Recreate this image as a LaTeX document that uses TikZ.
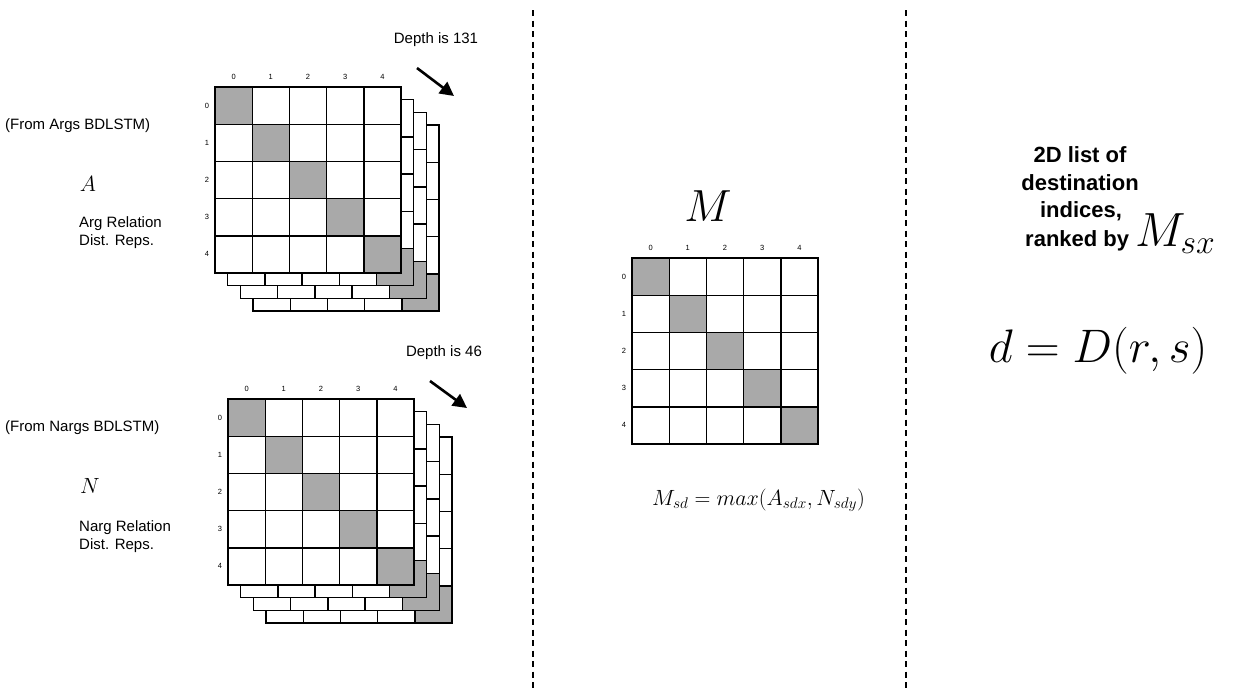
\documentclass[tikz,border=0pt]{standalone}
\usepackage{fix-cm}
\usepackage{fontspec}
\setmainfont{Liberation Sans}
\usetikzlibrary{arrows.meta}
\definecolor{shadegray}{RGB}{169,169,169}
\newcommand\drawlayer[2]{%
  \begin{scope}[shift={(#1,#2)}]
    \fill[white] (0,0) rectangle (186,186);
    \foreach \i in {0,...,4} {\fill[shadegray] (\i*37.2,\i*37.2) rectangle ++(37.2,37.2);}
    \foreach \i in {1,...,4} {\draw[gl] (\i*37.2,0) -- (\i*37.2,186); \draw[gl] (0,\i*37.2) -- (186,\i*37.2);}
    \draw[gl] (0,0) rectangle (186,186);
  \end{scope}}
\newcommand\gstack[3]{%
  \foreach \k in {#3,...,0} {\drawlayer{#1+\k*12.7}{#2+\k*12.7}}}
\newcommand\gindex[3]{% x y prefix
  \foreach \i in {0,...,4} {
    \node[idx] (#3c\i) at (#1+18.6+\i*37.2, #2-10) {\i};
    \node[idx] (#3r\i) at (#1-8, #2+18.6+\i*37.2) {\i};}}
\begin{document}
\begin{tikzpicture}[x=1pt,y=-1pt,
  gl/.style={line width=1.4pt, draw=black},
  idx/.style={font=\fontsize{7.5}{9}\selectfont, inner sep=0},
  lbl/.style={font=\fontsize{15}{18}\selectfont, inner sep=0, align=left},
  rt/.style={font=\fontsize{22}{24}\bfseries\selectfont, inner sep=0},
  bigm/.style={font=\fontsize{45}{50}\selectfont, inner sep=0},
  sep/.style={line width=1.6pt, dash pattern=on 6pt off 4.5pt},
  darr/.style={line width=2.6pt, -{Triangle[length=14pt,width=14pt]}}]
\useasboundingbox (0,0) rectangle (1234,694);
% separators
\coordinate (s1t) at (533,10); \coordinate (s1b) at (533,690);
\coordinate (s2t) at (906,10); \coordinate (s2b) at (906,690);
\draw[sep] (s1t) -- (s1b);
\draw[sep] (s2t) -- (s2b);
% top stack
\gstack{215}{87}{3}
\gindex{215}{87}{t}
\node[lbl] (d131) at (436,40) {Depth is 131};
\coordinate (a1s) at (417,68); \coordinate (a1e) at (454,96);
\draw[darr] (a1s) -- (a1e);
% bottom stack
\gstack{228}{399}{3}
\gindex{228}{399}{b}
\node[lbl] (d46) at (444,353) {Depth is 46};
\coordinate (a2s) at (430,381); \coordinate (a2e) at (467,408);
\draw[darr] (a2s) -- (a2e);
% middle
\drawlayer{632}{258}
\gindex{632}{258}{m}
\node[bigm] (Mlab) at (708,206) {$M$};
\node[font=\fontsize{22}{25}\selectfont, inner sep=0, anchor=base west] (form) at (652,505) {$M_{sd} = max(A_{sdx}, N_{sdy})$};
% left labels
\node[lbl, anchor=west] (fa) at (5,126) {(From Args BDLSTM)};
\node[font=\fontsize{22}{24}\selectfont, inner sep=0] (Alab) at (88,184) {$A$};
\node[lbl, anchor=north west] (ar) at (79,216) {Arg Relation\\Dist. Reps.};
\node[lbl, anchor=west] (fn) at (5,428) {(From Nargs BDLSTM)};
\node[font=\fontsize{22}{24}\selectfont, inner sep=0] (Nlab) at (90,486) {$N$};
\node[lbl, anchor=north west] (nr) at (79,520) {Narg Relation\\Dist. Reps.};
% right
\node[rt] (r1) at (1080,155) {2D list of};
\node[rt] (r2) at (1080,183) {destination};
\node[rt] (r3) at (1081,211) {indices,};
\node[rt, anchor=base west] (r4) at (1025,246) {ranked by \fontsize{48}{52}\selectfont$M_{sx}$};
\node[font=\fontsize{47}{52}\selectfont, inner sep=0, anchor=base] (dD) at (1098,362) {$d = D(r,s)$};
\end{tikzpicture}
\end{document}
